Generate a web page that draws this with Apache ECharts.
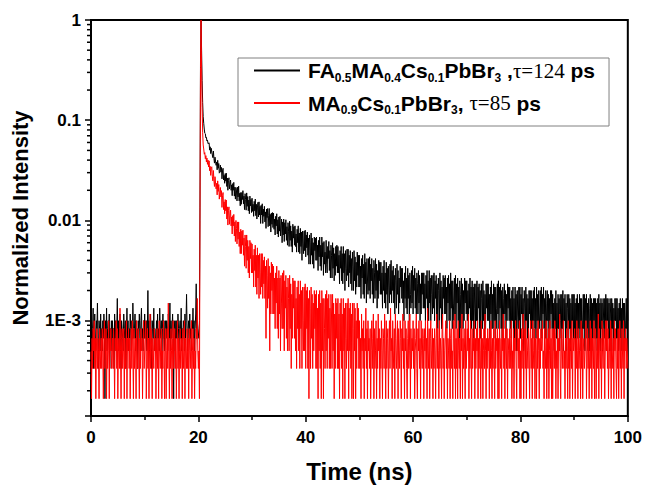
<!DOCTYPE html>
<html>
<head>
<meta charset="utf-8">
<script src="https://cdn.jsdelivr.net/npm/echarts@6/dist/echarts.min.js"></script>
<style>
html,body{margin:0;padding:0;background:#fff;}
#chart{width:645px;height:488px;}
</style>
</head>
<body>
<div id="chart"></div>
<script>
// ---- data ----
// photon counts per 0.1 ns channel, t = 0 ... 100 ns (1001 channels); peak = 6000 counts -> normalised 1
const timeStepNs = 0.1;
const peakCounts = 6000;
const seriesNames = ['FA0.5MA0.4Cs0.1PbBr3', 'MA0.9Cs0.1PbBr3'];
const blackCounts = [
4,6,3,5,8,2,5,7,4,3,6,5,9,4,2,6,5,3,7,4,
5,3,6,4,7,5,1,6,4,8,3,5,6,4,7,2,5,4,6,3,
6,4,5,2,7,4,6,3,5,10,4,6,3,5,7,4,2,6,5,4,
3,7,5,4,6,2,5,8,4,6,3,5,4,7,5,3,6,4,9,5,
4,5,7,3,6,4,5,2,6,4,7,5,3,6,8,4,5,3,6,4,
7,4,5,6,3,5,12,4,6,3,5,7,4,2,6,5,4,8,3,5,
5,3,6,4,7,4,5,3,8,5,4,6,2,5,7,4,6,3,5,6,
4,6,5,3,7,5,4,9,3,6,4,5,7,4,1,6,5,3,6,4,
6,4,7,5,3,5,6,4,8,3,5,4,6,5,3,7,4,6,11,5,
3,5,6,4,7,4,5,3,6,5,8,4,6,3,5,7,14,4,6,5,
5,4,6,80,2400,6000,3000,1500,900,650,560,490,445,440,400,405,372,380,350,352,
357,302,326,279,315,318,270,254,296,250,224,257,259,213,230,192,239,199,222,178,
181,214,183,203,156,187,199,152,169,141,176,148,178,131,159,120,150,160,124,138,
152,120,136,106,140,120,144,105,129,98,128,118,94,129,103,132,94,112,84,114,
87,114,97,119,88,105,77,111,97,76,113,83,104,75,96,70,105,84,97,72,
100,74,87,66,93,75,98,67,87,62,80,91,65,92,68,83,56,85,68,88,
56,78,66,83,58,73,50,78,64,79,52,67,79,53,69,46,71,55,72,51,
71,49,62,43,66,53,70,44,61,41,65,47,66,42,53,62,36,58,43,62,
37,57,44,61,38,52,34,57,47,33,59,38,53,33,47,29,55,40,52,34,
53,33,44,29,49,36,53,29,45,28,50,33,46,24,47,35,28,47,30,48,
26,43,32,46,27,40,22,43,36,22,45,27,40,22,36,20,41,30,40,24,
41,24,34,19,38,26,41,21,34,19,41,26,36,17,37,22,29,18,38,22,
18,33,25,37,19,30,16,34,27,16,36,20,32,15,28,17,33,21,34,18,
33,18,27,14,30,20,33,15,28,14,33,18,28,12,30,20,15,31,17,31,
13,27,18,30,14,25,12,29,21,12,30,15,26,11,23,13,29,17,27,13,
27,13,21,10,25,16,27,11,22,10,28,14,23,9,25,16,11,25,12,26,
10,22,15,25,11,20,9,24,18,10,25,12,22,8,19,10,24,15,23,11,
23,11,18,8,21,12,24,9,18,8,23,11,20,7,21,13,9,22,11,24,
9,19,12,21,9,17,7,20,15,8,22,11,19,7,16,9,21,13,20,10,
20,9,15,6,18,10,21,8,16,7,20,10,17,6,18,11,8,19,9,21,
7,17,12,20,8,16,7,18,14,7,19,9,17,6,14,7,18,11,18,8,
18,8,14,6,17,10,19,7,15,6,19,9,16,6,17,11,7,17,8,18,
6,15,10,17,6,14,5,16,12,6,18,8,15,5,13,7,17,10,16,7,
17,7,13,5,16,9,17,6,14,6,18,8,15,5,15,9,6,16,7,17,
5,14,9,16,6,13,4,15,11,5,16,7,14,5,12,6,16,9,15,7,
15,6,12,5,14,8,16,6,13,5,15,6,13,4,14,8,5,14,6,15,
4,13,8,14,5,12,4,14,10,5,15,6,12,4,11,5,14,8,14,6,
14,6,11,4,13,7,15,5,11,5,14,6,13,4,13,8,5,14,7,15,
5,13,8,14,5,12,4,13,10,5,14,7,12,4,11,6,14,8,13,6,
13,5,10,4,12,6,13,4,10,4,13,6,11,3,12,7,5,13,6,13,
4,11,7,13,5,10,3,12,9,4,13,6,11,4,10,5,12,7,12,5,
12,5,10,4,12,6,13,5,10,4,13,6,11,4,12,7,5,12,6,13,
4,11,7,13,5,10,4,12,9,4,12,6,11,4,10,5,12,7,12,5,
11,4,9,3,10,5,12,4,9,3,11,5,10,3,11,6,4,11,5,12,
3,10,6,11,4,9,3,11,8,4,11,5,10,3,9,4,11,6,11,4,
11,4,9,3,10,5,11,4,9,4,11,5,10,3,10,6,4,11,5,11,
3,10,6,11,4,9,3,10,8,3,11,5,10,3,9,4,10,6,10,4,
10,4,9,3,10,5,11,4,9,3,10,5,9,3,10,6,4,10,5,11,
3,10,6,10,4,9,3,10,7,3,10,5,9,3,8,4,10,6,10,4,
10,4,8,3,9,5,10,4,8,3,10,5,9,3,9,6,4,10,5,10,
6
];
const redCounts = [
3,1,4,2,5,3,6,2,4,1,3,5,2,4,3,1,5,3,2,4,
2,5,3,1,4,6,2,3,5,1,4,2,3,6,1,4,3,5,2,3,
4,2,5,3,1,4,3,6,2,5,1,3,4,2,8,3,1,4,5,2,
3,5,1,4,2,3,6,1,4,3,5,2,4,1,3,5,2,6,3,1,
5,2,3,4,1,6,3,2,5,3,1,4,2,5,3,4,1,3,6,2,
2,4,6,1,3,5,2,4,1,3,7,2,5,3,1,4,3,2,5,3,
4,1,3,5,2,4,1,6,3,2,4,5,1,3,2,6,4,1,3,5,
1,3,5,2,9,3,1,4,2,5,3,1,4,6,2,3,5,2,4,1,
3,6,2,4,1,3,5,2,3,4,1,5,2,3,6,1,4,3,2,5,
2,4,1,5,3,2,4,6,1,3,5,2,4,1,3,2,5,4,10,3,
2,3,1,60,2000,6000,2000,800,450,340,310,275,285,248,266,230,252,218,240,205,
236,188,208,169,201,206,164,149,189,151,131,164,165,124,141,108,149,117,137,98,
99,128,103,119,81,106,114,77,92,70,97,75,96,62,82,54,75,82,55,67,
76,53,65,44,67,53,69,42,58,37,60,50,35,58,39,58,33,46,28,49,
28,47,34,48,27,40,21,43,33,20,43,24,38,18,33,16,38,25,36,18,
35,18,27,13,31,19,34,13,27,11,32,16,27,10,28,18,11,28,13,28,
10,24,14,26,10,21,4,24,17,8,25,10,21,3,18,7,23,12,22,7,
21,7,16,5,18,9,21,5,16,4,19,7,16,3,17,9,5,18,5,19,
3,15,8,17,4,13,3,16,10,3,17,5,14,2,11,4,16,8,15,4,
15,3,10,2,13,5,15,3,11,2,15,5,12,2,13,6,3,13,3,14,
2,12,5,13,2,10,1,12,8,2,13,4,11,2,9,3,12,5,11,2,
12,2,8,1,11,3,12,2,9,1,12,3,10,1,10,5,2,11,3,12,
2,10,4,11,2,8,2,11,7,2,11,3,9,1,7,2,10,4,9,2,
10,2,7,1,9,3,10,2,7,1,10,3,8,1,9,4,2,9,3,10,
1,8,3,9,2,7,1,9,5,1,9,3,8,1,6,2,9,4,8,2,
6,2,4,1,7,3,5,2,6,1,4,3,8,2,5,1,6,3,4,2,
5,1,3,6,2,4,7,1,5,2,3,6,1,4,2,7,3,5,1,4,
2,6,3,1,5,4,2,7,3,1,6,2,4,5,1,3,6,2,8,3,
4,1,6,3,2,5,1,7,4,2,3,6,1,5,3,2,6,4,1,5,
3,7,2,4,1,6,3,5,2,1,4,6,2,3,7,1,5,2,4,3,
6,2,5,1,3,4,7,2,1,5,3,6,2,4,1,6,3,2,5,4,
1,5,3,6,2,4,1,8,3,2,5,1,4,6,2,3,5,1,4,2,
5,3,1,4,7,2,5,3,1,6,2,4,3,1,5,7,2,4,1,3,
3,6,2,5,1,4,3,2,6,1,4,5,2,3,1,6,4,2,7,1,
4,2,5,1,6,3,2,4,1,5,3,7,1,4,2,5,3,1,6,2,
2,5,3,7,1,4,2,6,3,1,5,2,4,3,6,1,4,2,5,3,
6,1,4,2,5,3,1,6,2,4,1,3,5,2,7,3,1,4,2,5,
3,4,1,5,2,6,3,1,4,2,5,3,1,6,2,4,3,5,1,4,
1,6,3,2,4,1,5,3,7,2,4,1,6,3,2,5,1,4,3,2,
5,2,4,6,1,3,2,5,1,4,3,6,2,1,5,3,4,2,6,1,
3,1,5,2,4,7,1,3,5,2,6,1,4,3,2,5,3,1,4,6,
2,4,1,6,3,2,5,1,4,3,1,5,2,6,3,1,4,2,5,3,
4,6,2,3,1,5,3,2,6,1,4,2,5,1,3,6,2,4,1,5,
1,3,5,2,6,4,1,3,2,5,1,4,3,7,2,1,5,3,2,4,
6,2,3,1,4,2,5,3,1,6,2,4,1,3,5,2,6,1,4,3,
3,5,1,4,2,6,3,1,5,2,3,4,1,6,2,5,1,3,4,2,
2,4,6,1,3,5,2,4,1,3,6,2,5,1,4,3,2,6,1,4,
5,1,3,4,2,7,1,5,3,2,4,1,6,3,2,5,4,1,3,6,
3,6,2,5,1,3,4,2,6,1,5,3,2,4,1,6,3,5,2,1,
4,2,5,1,3,6,2,4,1,5,3,2,6,1,4,3,5,2,4,3,
2
];
const seriesColors = ['#000000', '#ff0000'];
const legendLabels = [
  '{b|FA}{s|0.5}{b|MA}{s|0.4}{b|Cs}{s|0.1}{b|PbBr}{s|3}{b| ,}{t|\u03c4=124}{b| ps}',
  '{b|MA}{s|0.9}{b|Cs}{s|0.1}{b|PbBr}{s|3}{b|, }{t|\u03c4=85}{b| ps}'
];
const xMin = 0, xMax = 100, xInterval = 20;
const yMin = 1.12e-4, yMax = 1;
const yTickValues = [1, 0.1, 0.01, 0.001];
const yTickLabels = ['1', '0.1', '0.01', '1E-3'];
const yMinorTicks = [2e-4,3e-4,4e-4,5e-4,6e-4,7e-4,8e-4,9e-4,
  2e-3,3e-3,4e-3,5e-3,6e-3,7e-3,8e-3,9e-3,
  2e-2,3e-2,4e-2,5e-2,6e-2,7e-2,8e-2,9e-2,
  0.2,0.3,0.4,0.5,0.6,0.7,0.8,0.9];
const xTitle = 'Time (ns)';
const yTitle = 'Normalized Intensity';

// ---- chart ----
const toSeries = counts => counts.map((c, i) => [+(i * timeStepNs).toFixed(2), c / peakCounts]);
const chart = echarts.init(document.getElementById('chart'), null, {renderer: 'svg'});
const FONT = '"Liberation Sans", Arial, sans-serif';
chart.setOption({
  animation: false,
  backgroundColor: '#fff',
  grid: {left: 91, right: 14, top: 20, bottom: 72, show: true, borderColor: '#000', borderWidth: 2, backgroundColor: 'transparent'},
  legend: {
    data: seriesNames,
    orient: 'vertical',
    left: 238, top: 58,
    padding: [2, 14, 10, 16],
    itemGap: 9,
    itemWidth: 46, itemHeight: 2,
    icon: 'rect',
    borderColor: '#808080', borderWidth: 1,
    backgroundColor: '#fff',
    formatter: name => legendLabels[seriesNames.indexOf(name)],
    textStyle: {
      padding: [0, 0, 0, 3],
      rich: {
        b: {fontFamily: FONT, fontWeight: 'bold', fontSize: 21, color: '#000', lineHeight: 26},
        s: {fontFamily: FONT, fontWeight: 'bold', fontSize: 12, color: '#000', lineHeight: 12, verticalAlign: 'bottom'},
        t: {fontFamily: '"Liberation Serif", "Times New Roman", serif', fontSize: 21, color: '#000', lineHeight: 26}
      }
    }
  },
  xAxis: {
    type: 'value', min: xMin, max: xMax, interval: xInterval,
    name: xTitle, nameLocation: 'middle', nameGap: 43,
    nameTextStyle: {fontFamily: FONT, fontWeight: 'bold', fontSize: 24, color: '#000'},
    axisLine: {lineStyle: {color: '#000', width: 2}},
    axisTick: {inside: false, length: 6, lineStyle: {color: '#000', width: 1.5}},
    minorTick: {show: true, splitNumber: 2, length: 4, lineStyle: {color: '#000', width: 1.5}},
    axisLabel: {margin: 13, fontFamily: FONT, fontWeight: 'bold', fontSize: 17, color: '#000'},
    splitLine: {show: false}
  },
  yAxis: {
    type: 'log', logBase: 10, min: yMin, max: yMax,
    name: yTitle, nameLocation: 'middle', nameGap: 60, nameRotate: 90,
    nameTextStyle: {fontFamily: FONT, fontWeight: 'bold', fontSize: 22, color: '#000'},
    axisLine: {lineStyle: {color: '#000', width: 2}},
    axisTick: {inside: false, length: 6, lineStyle: {color: '#000', width: 1.5}},
    axisLabel: {
      margin: 10, fontFamily: FONT, fontWeight: 'bold', fontSize: 17, color: '#000',
      formatter: v => {
        for (let k = 0; k < yTickValues.length; k++) {
          if (Math.abs(Math.log10(v) - Math.log10(yTickValues[k])) < 1e-6) return yTickLabels[k];
        }
        return '';
      }
    },
    splitLine: {show: false}
  },
  series: [
    {
      name: seriesNames[0], type: 'line', data: toSeries(blackCounts),
      showSymbol: false, symbol: 'none',
      lineStyle: {color: seriesColors[0], width: 1}, itemStyle: {color: seriesColors[0]}, z: 2
    },
    {
      name: seriesNames[1], type: 'line', data: toSeries(redCounts),
      showSymbol: false, symbol: 'none',
      lineStyle: {color: seriesColors[1], width: 1}, itemStyle: {color: seriesColors[1]}, z: 3
    },
    {
      name: 'yMinorTicks', type: 'custom', silent: true, clip: false,
      data: yMinorTicks.map(v => [xMin, v]),
      encode: {x: 0, y: 1},
      renderItem: (params, api) => {
        const p = api.coord([api.value(0), api.value(1)]);
        return {type: 'line', shape: {x1: p[0] - 4, y1: p[1], x2: p[0], y2: p[1]},
          style: {stroke: '#000', lineWidth: 1.5}};
      },
      z: 5
    }
  ]
});
</script>
</body>
</html>
